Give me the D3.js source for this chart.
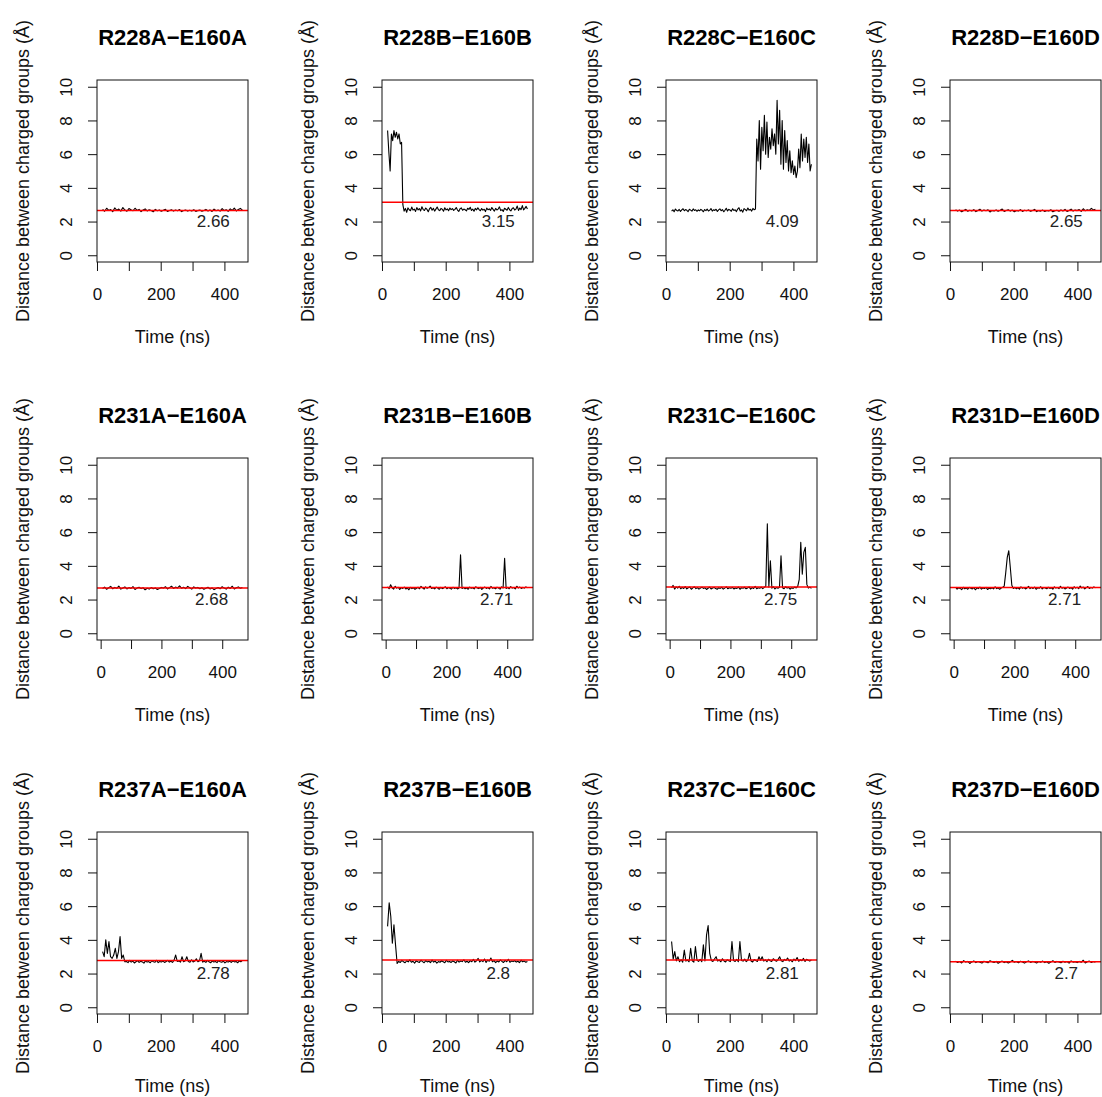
<!DOCTYPE html>
<html>
<head>
<meta charset="utf-8">
<script src="https://cdnjs.cloudflare.com/ajax/libs/d3/7.8.5/d3.min.js"></script>
<style>
  html, body { margin: 0; padding: 0; background: #fff; }
  svg { display: block; font-family: "Liberation Sans", Arial, Helvetica, sans-serif; }
</style>
</head>
<body>
<svg id="chart" width="1102" height="1097"></svg>
<script>
// ---------- DATA ----------
const titles = [
  "R228A−E160A", "R228B−E160B", "R228C−E160C", "R228D−E160D",
  "R231A−E160A", "R231B−E160B", "R231C−E160C", "R231D−E160D",
  "R237A−E160A", "R237B−E160B", "R237C−E160C", "R237D−E160D"
];
const means = [2.66, 3.15, 4.09, 2.65, 2.68, 2.71, 2.75, 2.71, 2.78, 2.8, 2.81, 2.7];
const meanLabels = ["2.66", "3.15", "4.09", "2.65", "2.68", "2.71", "2.75", "2.71", "2.78", "2.8", "2.81", "2.7"];
// the reference shows no red mean line in the R228C panel
const showMeanLine = [true, true, false, true, true, true, true, true, true, true, true, true];
// time span (ns) of the sampled trajectory, per row of panels
const rowStartTime = [17.6, 6.4, 17.6];
const rowEndTime = [456.5, 466.4, 456.5];
const xTicks = [0, 100, 200, 300, 400];
const xTickLabels = [0, 200, 400];
const yTicks = [0, 2, 4, 6, 8, 10];
const xLabel = "Time (ns)";
const yLabel = "Distance between charged groups (Å)";

const s228A = [
  2.72,2.61,2.79,2.66,2.71,2.59,2.81,2.67,2.74,2.62,
  2.83,2.68,2.61,2.77,2.70,2.64,2.79,2.66,2.72,2.59,
  2.69,2.75,2.63,2.70,2.66,2.58,2.72,2.64,2.69,2.61,
  2.67,2.73,2.60,2.66,2.70,2.62,2.68,2.64,2.71,2.59,
  2.66,2.69,2.62,2.67,2.63,2.70,2.60,2.65,2.68,2.61,
  2.66,2.72,2.63,2.69,2.60,2.74,2.64,2.68,2.62,2.77,
  2.65,2.70,2.61,2.75,2.66,2.80,2.63,2.72,2.78,2.68
];
const s228B = [
  7.4,6.1,5.0,7.2,6.8,7.4,7.0,7.3,6.9,7.2,6.6,6.7,
  3.0,2.62,2.78,2.55,2.81,2.70,2.64,2.86,2.68,
  2.74,2.60,2.83,2.69,2.77,2.63,2.88,2.71,2.66,2.80,
  2.72,2.58,2.76,2.84,2.67,2.79,2.62,2.74,2.86,2.70,
  2.65,2.78,2.73,2.61,2.82,2.69,2.75,2.64,2.80,2.71,
  2.77,2.66,2.72,2.83,2.68,2.60,2.76,2.81,2.67,2.74,
  2.70,2.63,2.79,2.72,2.85,2.66,2.74,2.61,2.78,2.69,
  2.82,2.71,2.64,2.77,2.68,2.73,2.59,2.80,2.70,2.75,
  2.66,2.83,2.72,2.62,2.78,2.69,2.74,2.87,2.65,2.71,
  2.60,2.79,2.73,2.67,2.84,2.70,2.63,2.77,2.82,2.68,
  2.74,2.92,2.66,2.80,2.71,2.95,2.69,2.78,2.90,2.74
];
const s228C = [
  2.62,2.70,2.58,2.74,2.66,2.63,2.72,2.60,2.69,2.76,
  2.64,2.71,2.67,2.59,2.73,2.68,2.62,2.75,2.66,2.70,
  2.61,2.69,2.64,2.72,2.67,2.58,2.71,2.65,2.74,2.63,
  2.68,2.77,2.62,2.70,2.66,2.73,2.60,2.69,2.75,2.64,
  2.71,2.58,2.67,2.79,2.63,2.72,2.68,2.61,2.76,2.66,
  2.70,2.59,2.74,2.82,2.62,2.69,2.56,2.77,2.71,2.64,
  2.80,2.68,2.73,2.62,2.78,2.70,2.75,
  6.9,5.6,8.0,5.1,7.6,6.2,8.3,6.0,7.9,5.8,
  7.0,6.3,7.5,6.5,7.2,6.0,9.2,6.6,8.6,5.4,
  8.0,5.1,7.4,5.5,6.8,5.0,6.2,4.9,5.6,4.8,
  5.3,4.6,5.0,6.3,5.2,7.2,5.6,6.9,5.8,7.0,
  5.5,6.6,5.0,5.4
];
const s228D = [
  2.70,2.62,2.68,2.58,2.66,2.72,2.61,2.67,2.63,2.71,
  2.59,2.66,2.73,2.62,2.68,2.64,2.70,2.57,2.66,2.63,
  2.69,2.61,2.67,2.74,2.60,2.65,2.70,2.62,2.68,2.58,
  2.66,2.63,2.71,2.60,2.67,2.64,2.69,2.61,2.66,2.72,
  2.59,2.65,2.62,2.68,2.60,2.66,2.63,2.70,2.58,2.64,
  2.67,2.61,2.69,2.63,2.72,2.60,2.66,2.74,2.62,2.68,
  2.65,2.71,2.60,2.76,2.64,2.70,2.66,2.78,2.69,2.73
];
const s231A = [
  2.66,2.74,2.61,2.70,2.78,2.64,2.72,2.67,2.80,2.62,
  2.69,2.75,2.63,2.71,2.66,2.77,2.60,2.68,2.73,2.65,
  2.70,2.58,2.67,2.62,2.71,2.64,2.69,2.60,2.66,2.72,
  2.68,2.76,2.63,2.71,2.79,2.66,2.74,2.69,2.81,2.67,
  2.73,2.65,2.78,2.70,2.62,2.75,2.68,2.72,2.64,2.70,
  2.61,2.67,2.73,2.63,2.69,2.59,2.66,2.71,2.64,2.76,
  2.68,2.62,2.74,2.66,2.79,2.63,2.70,2.75,2.67,2.72
];
const s231B = [
  2.76,2.64,2.88,2.70,2.62,2.79,2.68,2.73,2.60,2.71,
  2.66,2.74,2.63,2.69,2.58,2.72,2.65,2.70,2.61,2.67,
  2.73,2.64,2.78,2.69,2.62,2.75,2.67,2.71,2.80,2.66,
  2.70,2.63,2.74,2.68,2.61,2.72,2.65,2.69,2.76,2.64,
  2.71,2.67,2.62,2.73,2.66,2.70,2.63,2.68,4.65,2.66,
  2.72,2.64,2.69,2.61,2.74,2.67,2.70,2.63,2.76,2.68,
  2.65,2.72,2.60,2.69,2.74,2.66,2.71,2.63,2.78,2.67,
  2.70,2.64,2.73,2.68,2.62,2.75,2.69,4.45,2.66,2.72,
  2.64,2.77,2.68,2.71,2.63,2.79,2.69,2.74,2.66,2.72,
  2.68,2.75,2.70
];
const s231C = [
  2.70,2.84,2.62,2.75,2.68,2.79,2.64,2.72,2.66,2.77,
  2.63,2.70,2.74,2.61,2.69,2.76,2.65,2.71,2.62,2.68,
  2.73,2.66,2.70,2.60,2.67,2.74,2.63,2.69,2.72,2.65,
  2.61,2.70,2.66,2.73,2.62,2.68,2.75,2.64,2.70,2.67,
  2.72,2.63,2.69,2.66,2.74,2.61,2.70,2.67,2.73,2.64,
  2.69,2.75,2.62,2.71,2.66,2.78,2.64,2.70,2.67,2.73,
  2.65,2.72,2.80,6.50,2.74,4.30,2.68,2.76,2.63,2.71,
  2.67,2.73,4.60,2.70,2.64,2.76,2.68,2.72,2.62,2.70,
  2.66,2.74,2.69,2.78,3.20,5.40,3.50,4.80,5.10,2.90,
  2.68,2.74,2.66
];
const s231D = [
  2.74,2.62,2.70,2.66,2.59,2.73,2.64,2.69,2.61,2.72,
  2.67,2.63,2.71,2.58,2.68,2.65,2.74,2.62,2.69,2.66,
  2.72,2.60,2.67,2.64,2.70,2.63,2.76,2.65,2.69,2.61,
  2.68,2.73,2.80,3.60,4.50,4.90,3.90,2.85,2.66,2.72,
  2.64,2.70,2.62,2.75,2.67,2.71,2.63,2.69,2.78,2.65,
  2.72,2.66,2.74,2.61,2.70,2.67,2.76,2.63,2.71,2.68,
  2.64,2.73,2.66,2.70,2.62,2.75,2.68,2.71,2.65,2.79,
  2.67,2.72,2.63,2.69,2.74,2.66,2.71,2.62,2.76,2.68,
  2.73,2.65,2.80,2.69,2.74,2.63,2.71,2.77,2.66,2.72,
  2.68,2.75,2.70
];
const s237A = [
  3.3,3.0,4.0,3.2,3.9,3.0,2.9,3.1,3.5,2.9,3.3,4.2,2.9,3.1,2.7,
  2.72,2.65,2.78,2.68,2.74,
  2.63,2.70,2.77,2.66,2.73,2.69,2.62,2.75,2.68,2.71,
  2.64,2.76,2.70,2.67,2.79,2.65,2.72,2.69,2.74,2.66,
  2.71,2.78,2.68,2.73,2.66,2.80,3.10,2.72,2.75,2.68,
  3.00,2.70,2.76,3.00,2.71,2.67,2.82,2.69,2.74,2.88,
  2.70,2.76,3.20,2.68,2.73,2.66,2.78,2.70,2.64,2.75,
  2.69,2.72,2.65,2.77,2.70,2.67,2.74,2.63,2.71,2.68,
  2.73,2.66,2.76,2.69,2.72,2.64,2.75,2.70,2.78
];
const s237B = [
  4.8,6.2,5.4,3.8,4.9,3.7,2.6,
  2.72,2.66,2.78,
  2.70,2.64,2.76,2.69,2.81,2.67,2.73,2.62,2.75,2.70,
  2.66,2.79,2.71,2.64,2.77,2.69,2.73,2.65,2.80,2.68,
  2.74,2.62,2.71,2.67,2.76,2.70,2.64,2.78,2.69,2.72,
  2.66,2.75,2.70,2.63,2.79,2.68,2.74,2.71,2.82,2.67,
  2.73,2.65,2.77,2.70,2.84,2.68,2.75,2.90,2.69,2.78,
  2.71,2.86,2.66,2.80,2.73,2.92,2.70,2.77,2.65,2.74,
  2.69,2.81,2.72,2.66,2.78,2.70,2.85,2.67,2.74,2.71,
  2.76,2.68,2.73,2.65,2.79,2.70,2.74,2.67,2.72
];
const s237C = [
  3.90,2.85,3.30,2.75,3.00,2.70,2.82,2.68,3.40,2.74,
  2.80,2.70,3.50,2.76,2.68,3.60,2.79,2.72,2.84,2.70,
  3.70,2.75,4.30,4.85,3.20,2.78,2.72,2.86,3.00,2.74,
  2.80,2.70,2.88,2.75,2.69,2.82,2.76,2.71,3.90,2.77,
  2.72,2.84,2.70,3.90,2.78,2.74,2.86,2.71,2.80,3.20,
  2.75,2.69,2.83,2.77,2.72,3.00,2.79,3.00,2.74,2.81,
  2.70,2.85,2.76,2.72,2.88,2.79,2.73,2.83,3.00,2.76,
  2.71,2.84,2.78,2.92,2.74,2.80,2.70,2.86,2.77,2.95,
  2.73,2.82,2.76,2.90,2.72,2.85,2.79,2.74,2.81
];
const s237D = [
  2.74,2.66,2.71,2.63,2.77,2.68,2.72,2.60,2.69,2.75,
  2.65,2.71,2.67,2.62,2.73,2.69,2.64,2.76,2.70,2.66,
  2.72,2.61,2.68,2.74,2.65,2.70,2.63,2.69,2.78,2.67,
  2.71,2.64,2.73,2.68,2.62,2.70,2.75,2.66,2.72,2.69,
  2.63,2.71,2.67,2.74,2.65,2.70,2.61,2.68,2.76,2.66,
  2.72,2.69,2.64,2.73,2.67,2.71,2.62,2.75,2.68,2.70,
  2.65,2.72,2.67,2.79,2.63,2.70,2.74,2.66,2.71,2.68
];
const series = [s228A, s228B, s228C, s228D, s231A, s231B, s231C, s231D, s237A, s237B, s237C, s237D];
// position of the mean label in data units
const meanLabelX = 365;
const meanLabelY = 2;

// ---------- LAYOUT ----------
const W = 1102, H = 1097;
const colLeft = [97, 382, 666, 950];
const rowTop = [80, 458, 832];
const boxW = 151, boxH = 182;
const ink = "#111";

const svg = d3.select("#chart");
svg.append("rect").attr("width", W).attr("height", H).attr("fill", "#fff");

titles.forEach((title, i) => {
  const row = Math.floor(i / 4), col = i % 4;
  const left = colLeft[col], top = rowTop[row];
  const values = series[i];
  const t0 = rowStartTime[row], t1 = rowEndTime[row];
  const n = values.length;
  const data = values.map((v, j) => ({ t: t0 + j * (t1 - t0) / (n - 1), v }));
  const pad = 0.04 * (t1 - t0);
  const x = d3.scaleLinear().domain([t0 - pad, t1 + pad]).range([left, left + boxW]);
  const y = d3.scaleLinear().domain([-0.4, 10.4]).range([top + boxH, top]);

  const g = svg.append("g");

  // data line
  const clipId = "clip" + i;
  svg.append("clipPath").attr("id", clipId)
    .append("rect").attr("x", left).attr("y", top).attr("width", boxW).attr("height", boxH);
  g.append("path")
    .datum(data)
    .attr("clip-path", `url(#${clipId})`)
    .attr("fill", "none")
    .attr("stroke", "#000")
    .attr("stroke-width", 1.1)
    .attr("stroke-linejoin", "round")
    .attr("d", d3.line().x(d => x(d.t)).y(d => y(d.v)));

  // mean line
  if (showMeanLine[i]) {
    g.append("line")
      .attr("x1", left).attr("x2", left + boxW)
      .attr("y1", y(means[i])).attr("y2", y(means[i]))
      .attr("stroke", "#ff0000").attr("stroke-width", 1.5);
  }

  // mean label
  g.append("text")
    .attr("x", x(meanLabelX)).attr("y", y(meanLabelY))
    .attr("text-anchor", "middle").attr("dominant-baseline", "central")
    .attr("font-size", 17).attr("fill", "#222")
    .text(meanLabels[i]);

  // box
  g.append("rect")
    .attr("x", left).attr("y", top).attr("width", boxW).attr("height", boxH)
    .attr("fill", "none").attr("stroke", ink).attr("stroke-width", 1);

  // x axis
  const xa = g.append("g").attr("transform", `translate(0,${top + boxH})`)
    .call(d3.axisBottom(x).tickValues(xTicks).tickSize(9).tickPadding(17)
      .tickFormat(d => xTickLabels.includes(d) ? d : ""));
  xa.select(".domain").remove();
  xa.selectAll("line").attr("stroke", ink);
  xa.selectAll("text").attr("font-size", 17).attr("fill", ink).attr("font-family", null);

  // y axis
  const ya = g.append("g").attr("transform", `translate(${left},0)`)
    .call(d3.axisLeft(y).tickValues(yTicks).tickSize(9));
  ya.select(".domain").remove();
  ya.selectAll("line").attr("stroke", ink);
  ya.selectAll("text")
    .attr("transform", "rotate(-90)")
    .attr("x", 0).attr("y", -25).attr("dy", null)
    .attr("text-anchor", "middle")
    .attr("font-size", 17).attr("fill", ink).attr("font-family", null);

  // titles
  g.append("text")
    .attr("x", left + boxW / 2).attr("y", top - 35)
    .attr("text-anchor", "middle")
    .attr("font-size", 22).attr("font-weight", "bold").attr("fill", "#000")
    .text(title);
  g.append("text")
    .attr("x", left + boxW / 2).attr("y", Math.min(top + boxH + 75, H - 11))
    .attr("text-anchor", "middle").attr("dominant-baseline", "central")
    .attr("font-size", 18).attr("fill", ink)
    .text(xLabel);
  g.append("text")
    .attr("transform", `translate(${left - 74},${top + boxH / 2}) rotate(-90)`)
    .attr("text-anchor", "middle").attr("dominant-baseline", "central")
    .attr("font-size", 18).attr("fill", ink)
    .text(yLabel);
});
</script>
</body>
</html>
